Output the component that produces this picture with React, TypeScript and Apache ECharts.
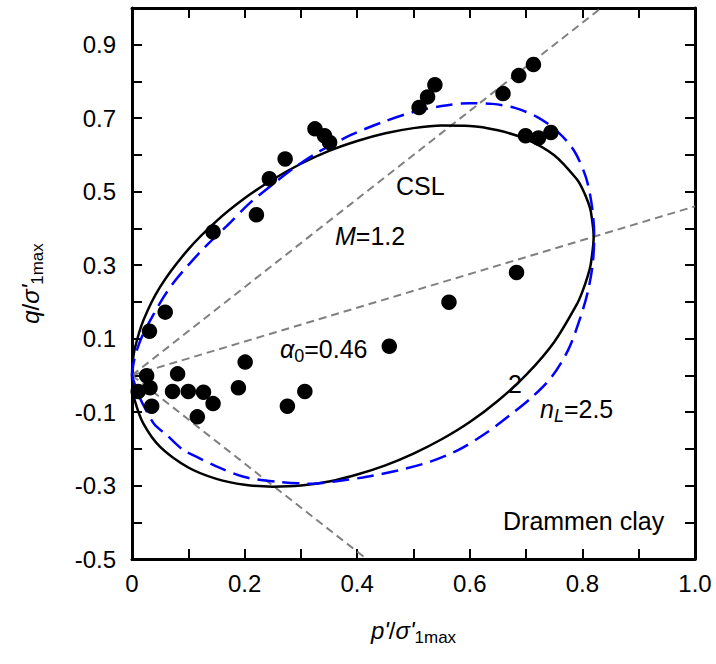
import React, { useEffect, useRef } from "react";
import * as echarts from "echarts";

// Tick settings
const xMin = 0;
const xMax = 1.0;
const yMin = -0.5;
const yMax = 1.0;
const tickStep = 0.1;

// Measured data points (p'/σ'1max, q/σ'1max)
const drammenPoints: [number, number][] = [
  [0.011, -0.044], [0.026, -0.001], [0.031, 0.12], [0.032, -0.034], [0.035, -0.084],
  [0.059, 0.172], [0.072, -0.044], [0.081, 0.004], [0.1, -0.044], [0.116, -0.113],
  [0.127, -0.046], [0.144, -0.077], [0.144, 0.39], [0.189, -0.034], [0.201, 0.036],
  [0.221, 0.437], [0.244, 0.535], [0.272, 0.589], [0.276, -0.084], [0.307, -0.044],
  [0.325, 0.671], [0.342, 0.652], [0.351, 0.634], [0.457, 0.079], [0.51, 0.729],
  [0.525, 0.758], [0.538, 0.791], [0.563, 0.199], [0.659, 0.767], [0.683, 0.28],
  [0.687, 0.816], [0.699, 0.652], [0.713, 0.846], [0.722, 0.646], [0.744, 0.661],
];

// Black solid yield surface (n = 2)
const surfaceN2: [number, number][] = [
  [0, 0], [0.001, 0.032], [0.005, 0.073], [0.02, 0.149], [0.05, 0.241], [0.1, 0.343],
  [0.15, 0.42], [0.2, 0.482], [0.25, 0.533], [0.3, 0.576], [0.35, 0.611], [0.4, 0.638],
  [0.45, 0.659], [0.5, 0.673], [0.55, 0.68], [0.6, 0.679], [0.65, 0.667], [0.7, 0.643],
  [0.75, 0.599], [0.79, 0.534], [0.8, 0.508], [0.81, 0.472], [0.815, 0.446], [0.82, 0.377],
  [0.815, 0.304], [0.81, 0.273], [0.8, 0.228], [0.79, 0.193], [0.75, 0.091], [0.7, 0.001],
  [0.65, -0.069], [0.6, -0.127], [0.55, -0.174], [0.5, -0.213], [0.45, -0.245], [0.4, -0.27],
  [0.35, -0.289], [0.3, -0.3], [0.25, -0.303], [0.2, -0.298], [0.15, -0.282], [0.1, -0.251],
  [0.05, -0.195], [0.02, -0.131], [0.005, -0.069], [0.001, -0.031], [0, 0],
];

// Blue dashed yield surface (nL = 2.5)
const surfaceNL: [number, number][] = [
  [0, 0], [0.003, 0.035], [0.01, 0.075], [0.022, 0.12], [0.038, 0.165], [0.055, 0.21],
  [0.075, 0.255], [0.1, 0.3], [0.13, 0.35], [0.168, 0.406], [0.21, 0.47], [0.25, 0.52],
  [0.29, 0.567], [0.33, 0.607], [0.39, 0.655], [0.45, 0.692], [0.5, 0.717], [0.55, 0.733],
  [0.6, 0.741], [0.64, 0.739], [0.68, 0.728], [0.72, 0.703], [0.755, 0.665], [0.785, 0.612],
  [0.806, 0.54], [0.817, 0.46], [0.821, 0.378], [0.818, 0.3], [0.81, 0.23], [0.797, 0.16],
  [0.775, 0.07], [0.745, -0.005], [0.71, -0.06], [0.67, -0.11], [0.629, -0.157], [0.58, -0.203],
  [0.53, -0.235], [0.47, -0.26], [0.41, -0.278], [0.36, -0.289], [0.32, -0.295], [0.26, -0.29],
  [0.2, -0.277], [0.15, -0.248], [0.115, -0.222], [0.09, -0.202], [0.062, -0.163], [0.04, -0.134],
  [0.025, -0.095], [0.012, -0.055], [0.004, -0.02], [0, 0],
];

// Gray dashed reference lines
const cslLine: [number, number][] = [[0, 0], [0.8333, 1.0]];
const alphaLine: [number, number][] = [[0, 0], [1.0, 0.46]];
const lowerLine: [number, number][] = [[0, 0], [0.4167, -0.5]];

const FONT = "'Liberation Sans', Arial, Helvetica, sans-serif";

export default function App() {
  const ref = useRef<HTMLDivElement>(null);

  useEffect(() => {
    document.body.style.margin = "0";
    if (!ref.current) return;
    const chart = echarts.init(ref.current, undefined, { renderer: "svg" });

    const axisLine = { show: true, onZero: false, lineStyle: { color: "#000", width: 3 } };
    const axisTick = { show: true, inside: true, length: 10, lineStyle: { color: "#000", width: 2 } };

    const titleRich = {
      i: { fontStyle: "italic", fontSize: 24, lineHeight: 32, fontFamily: FONT, color: "#000" },
      sub: { fontSize: 17, lineHeight: 16, verticalAlign: "bottom", fontFamily: FONT, color: "#000" },
    };

    const annRich = {
      i: { fontStyle: "italic", fontSize: 25, lineHeight: 32, fontFamily: FONT, fill: "#000" },
      sub: { fontSize: 18, lineHeight: 16, verticalAlign: "bottom", fontFamily: FONT, fill: "#000" },
      isub: { fontSize: 18, fontStyle: "italic", lineHeight: 16, verticalAlign: "bottom", fontFamily: FONT, fill: "#000" },
      n: { fontSize: 25, lineHeight: 32, fontFamily: FONT, fill: "#000" },
    };

    const textEl = (x: number, y: number, text: string) => ({
      type: "text",
      x,
      y,
      silent: true,
      z: 100,
      style: {
        text,
        rich: annRich,
        fontSize: 25,
        fontFamily: FONT,
        fill: "#000",
        align: "left",
        verticalAlign: "middle",
        lineHeight: 32,
      },
    });

    const dashed = (data: [number, number][]) => ({
      type: "line",
      data,
      symbol: "none",
      silent: true,
      z: 1,
      lineStyle: { color: "#808080", width: 2, type: [8, 5] },
    });

    chart.setOption({
      animation: false,
      grid: { left: 132, right: 21, top: 8, bottom: 105, containLabel: false },
      xAxis: [
        {
          type: "value",
          min: xMin,
          max: xMax,
          interval: tickStep,
          position: "bottom",
          axisLine,
          axisTick,
          splitLine: { show: false },
          axisLabel: {
            fontSize: 24,
            fontFamily: FONT,
            color: "#000",
            margin: 12,
            formatter: (v: number) => {
              const k = Math.round(v * 10);
              if (k % 2 !== 0) return "";
              return k === 0 ? "0" : (k / 10).toFixed(1);
            },
          },
          name: "{i|p'}/{i|σ'}{sub|1max}",
          nameLocation: "middle",
          nameGap: 55,
          nameTextStyle: { fontSize: 24, fontFamily: FONT, color: "#000", lineHeight: 32, rich: titleRich },
        },
        {
          type: "value",
          min: xMin,
          max: xMax,
          interval: tickStep,
          position: "top",
          axisLine,
          axisTick,
          axisLabel: { show: false },
          splitLine: { show: false },
        },
      ],
      yAxis: [
        {
          type: "value",
          min: yMin,
          max: yMax,
          interval: tickStep,
          position: "left",
          axisLine,
          axisTick,
          splitLine: { show: false },
          axisLabel: {
            fontSize: 24,
            fontFamily: FONT,
            color: "#000",
            margin: 16,
            formatter: (v: number) => {
              const k = Math.round(v * 10);
              if (Math.abs(k) % 2 !== 1) return "";
              return (k / 10).toFixed(1);
            },
          },
          name: "{i|q}/{i|σ'}{sub|1max}",
          nameLocation: "middle",
          nameGap: 86,
          nameTextStyle: { fontSize: 24, fontFamily: FONT, color: "#000", lineHeight: 32, rich: titleRich },
        },
        {
          type: "value",
          min: yMin,
          max: yMax,
          interval: tickStep,
          position: "right",
          axisLine,
          axisTick,
          axisLabel: { show: false },
          splitLine: { show: false },
        },
      ],
      series: [
        dashed(cslLine),
        dashed(alphaLine),
        dashed(lowerLine),
        {
          type: "line",
          data: surfaceN2,
          symbol: "none",
          smooth: 0.3,
          silent: true,
          z: 2,
          lineStyle: { color: "#000", width: 2.5 },
        },
        {
          type: "line",
          data: surfaceNL,
          symbol: "none",
          smooth: 0.3,
          silent: true,
          z: 3,
          lineStyle: { color: "#0000ff", width: 2.5, type: [17, 8] },
        },
        {
          type: "scatter",
          data: drammenPoints,
          symbol: "circle",
          symbolSize: 15.5,
          silent: true,
          z: 4,
          itemStyle: { color: "#000", opacity: 1 },
        },
      ],
      graphic: [
        textEl(396, 186, "CSL"),
        textEl(335, 236, "{i|M}{n|=1.2}"),
        textEl(280, 349, "{i|α}{sub|0}{n|=0.46}"),
        textEl(508, 384, "2"),
        textEl(540, 409, "{i|n}{isub|L}{n|=2.5}"),
        textEl(503, 521, "Drammen clay"),
      ],
    });

    return () => chart.dispose();
  }, []);

  return (
    <div
      ref={ref}
      style={{ width: 716, height: 664, position: "absolute", left: 0, top: 0 }}
    />
  );
}
